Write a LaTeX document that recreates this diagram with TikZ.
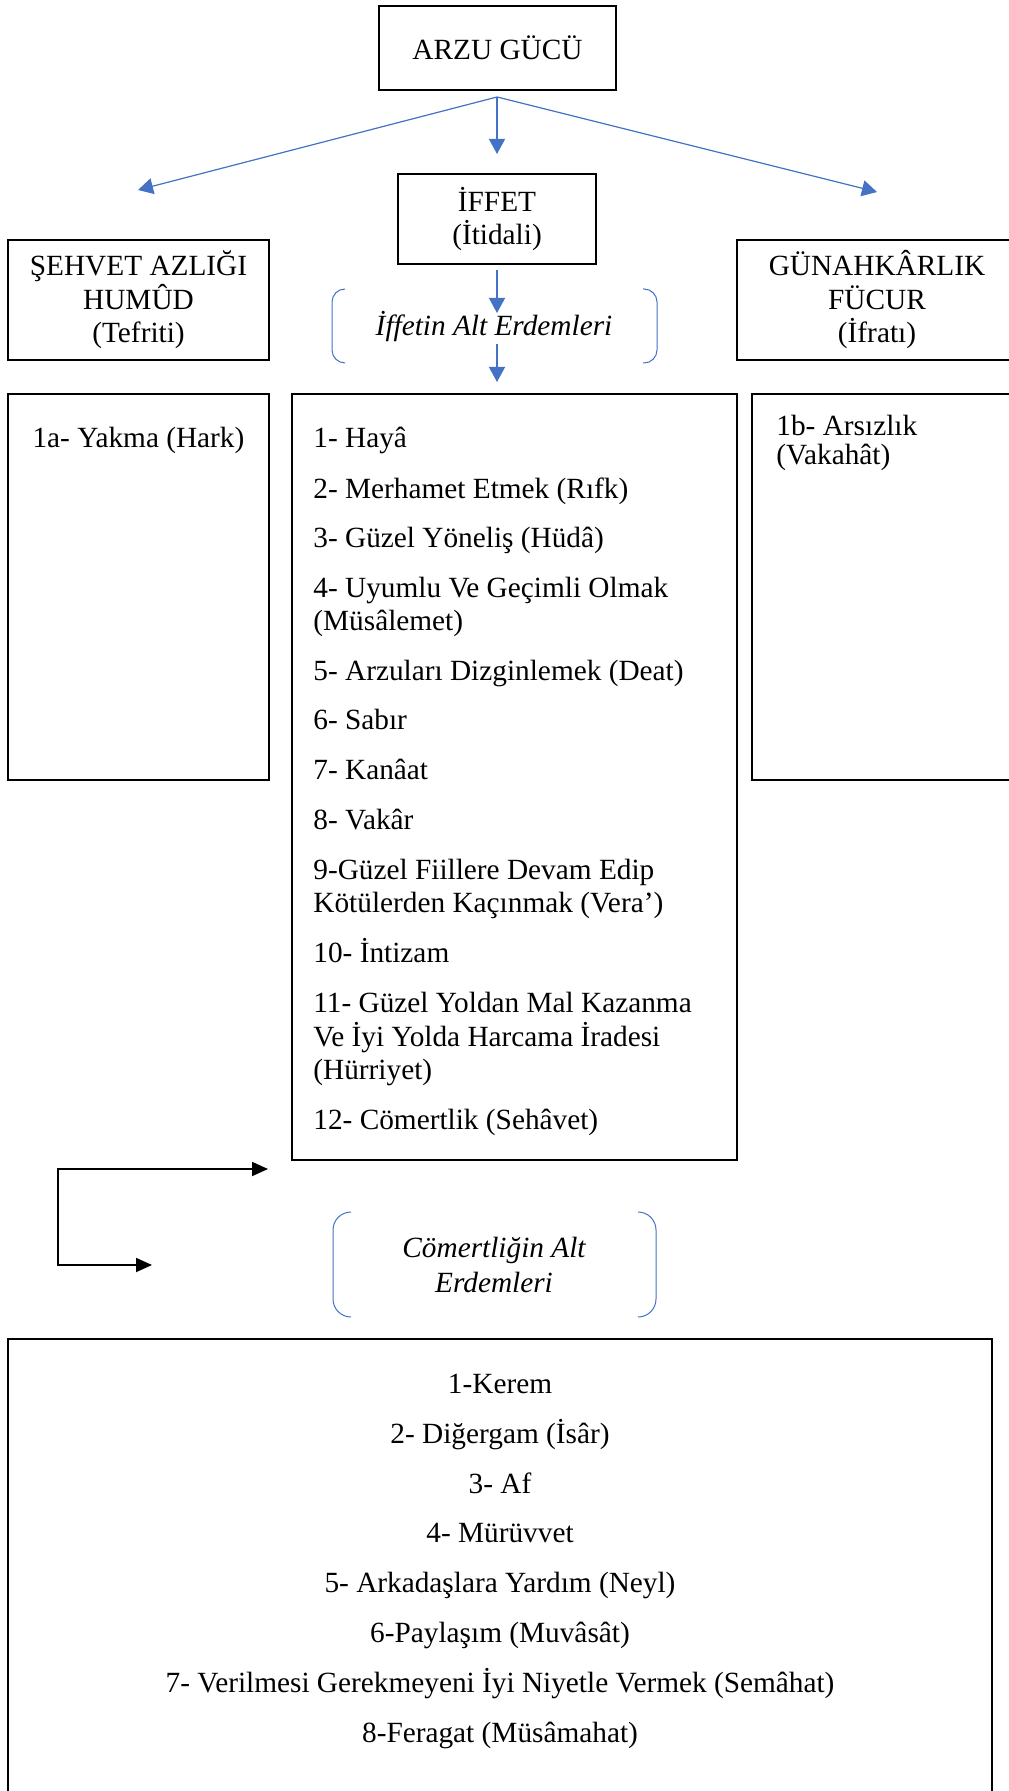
\documentclass[tikz,border=0pt]{standalone}
\usepackage{fontspec}
\setmainfont{Liberation Serif}
\usetikzlibrary{arrows.meta}
\definecolor{wblue}{HTML}{4472C4}
\begin{document}
\begin{tikzpicture}[x=0.5pt,y=-0.5pt,
  every node/.style={font=\fontsize{14.65pt}{16.75pt}\selectfont},
  box/.style={draw, line width=1.2pt, inner sep=0pt, outer sep=0pt},
  thinbox/.style={draw, line width=0.75pt, inner sep=0pt, outer sep=0pt},
  ln/.style={anchor=base west, inner sep=0pt},
  cn/.style={anchor=base, inner sep=0pt},
  itx/.style={anchor=base, inner sep=0pt, font=\fontsize{14.65pt}{16.75pt}\selectfont\itshape},
  barrow/.style={wblue, line width=0.6pt, -{Triangle[length=7.5pt,width=8pt]}},
  karrow/.style={black, line width=0.9pt, {Triangle[length=8pt,width=7pt]}-{Triangle[length=8pt,width=7pt]}},
  brk/.style={wblue, line width=0.5pt}]
\useasboundingbox (0,0) rectangle (1008,1791);
\fill[white] (0,0) rectangle (1008,1791);

% top boxes
\node[box, minimum width=118.5pt, minimum height=42pt] (arzu) at (497.5,48) {ARZU GÜCÜ};
\node[box, minimum width=99pt, minimum height=45pt, align=center] (iffet) at (497,219) {İFFET\\(İtidali)};
\node[box, minimum width=130.5pt, minimum height=60pt, align=center] (sehvet) at (138.5,300) {ŞEHVET AZLIĞI\\HUMÛD\\(Tefriti)};
\node[box, minimum width=146.5pt, minimum height=60pt] (gunah) at (883.5,300) {};
\node[align=center, inner sep=0pt] (gunahtxt) at (877,300) {GÜNAHKÂRLIK\\FÜCUR\\(İfratı)};

% tall boxes
\node[thinbox, minimum width=130.5pt, minimum height=193pt] (lbox) at (138.5,587) {};
\node[box, minimum width=222.5pt, minimum height=383pt] (cbox) at (514.5,777) {};
\node[thinbox, minimum width=139pt, minimum height=193pt] (rbox) at (891,587) {};
\node[box, minimum width=492pt, minimum height=245.5pt] (botbox) at (500,1584.5) {};

% texts in side boxes
\node[cn] (la) at (138.5,448) {1a- Yakma (Hark)};
\node[ln] (rb1) at (776,436) {1b- Arsızlık};
\node[ln] (rb2) at (776,465) {(Vakahât)};

% central list
\foreach \t/\yy [count=\i] in {
  {1- Hayâ}/448,
  {2- Merhamet Etmek (Rıfk)}/498,
  {3- Güzel Yöneliş (Hüdâ)}/547,
  {4- Uyumlu Ve Geçimli Olmak}/597,
  {(Müsâlemet)}/630,
  {5- Arzuları Dizginlemek (Deat)}/680,
  {6- Sabır}/729,
  {7- Kanâat}/779,
  {8- Vakâr}/829,
  {9-Güzel Fiillere Devam Edip}/879,
  {Kötülerden Kaçınmak (Vera’)}/912,
  {10- İntizam}/962,
  {11- Güzel Yoldan Mal Kazanma}/1012,
  {Ve İyi Yolda Harcama İradesi}/1046,
  {(Hürriyet)}/1079,
  {12- Cömertlik (Sehâvet)}/1129}
  \node[ln] (c\i) at (313,\yy) {\t};

% bottom list
\foreach \t/\yy [count=\i] in {
  {1-Kerem}/1393,
  {2- Diğergam (İsâr)}/1443,
  {3- Af}/1493,
  {4- Mürüvvet}/1542,
  {5- Arkadaşlara Yardım (Neyl)}/1592,
  {6-Paylaşım (Muvâsât)}/1642,
  {7- Verilmesi Gerekmeyeni İyi Niyetle Vermek (Semâhat)}/1692,
  {8-Feragat (Müsâmahat)}/1742}
  \node[cn] (b\i) at (500,\yy) {\t};

% bracket texts
\node[itx] (iat) at (494,336) {İffetin Alt Erdemleri};
\node[itx] (cat1) at (494,1257) {Cömertliğin Alt};
\node[itx] (cat2) at (494,1292) {Erdemleri};

% brackets
\draw[brk, rounded corners=6.5pt] (345,289) -- (332,289) -- (332,363) -- (345,363);
\draw[brk, rounded corners=6.5pt] (643,289) -- (657,289) -- (657,363) -- (643,363);
\draw[brk, rounded corners=9pt] (351,1212) -- (333,1212) -- (333,1317) -- (351,1317);
\draw[brk, rounded corners=9pt] (638,1212) -- (656,1212) -- (656,1317) -- (638,1317);

% blue arrows
\coordinate (a0) at (497,97);
\coordinate (aL) at (138,190);
\coordinate (aM) at (497,154);
\coordinate (aR) at (877,192);
\draw[barrow] (a0) -- (aL);
\draw[barrow] (a0) -- (aM);
\draw[barrow] (a0) -- (aR);
\coordinate (f0) at (497,270);
\coordinate (f1) at (497,313);
\coordinate (f2) at (497,344);
\coordinate (f3) at (497,382);
\draw[barrow] (f0) -- (f1);
\draw[barrow] (f2) -- (f3);

% black elbow connector
\coordinate (k1) at (268,1169);
\coordinate (k2) at (58,1169);
\coordinate (k3) at (58,1265);
\coordinate (k4) at (152,1265);
\draw[karrow] (k1) -- (k2) -- (k3) -- (k4);
\end{tikzpicture}
\end{document}
